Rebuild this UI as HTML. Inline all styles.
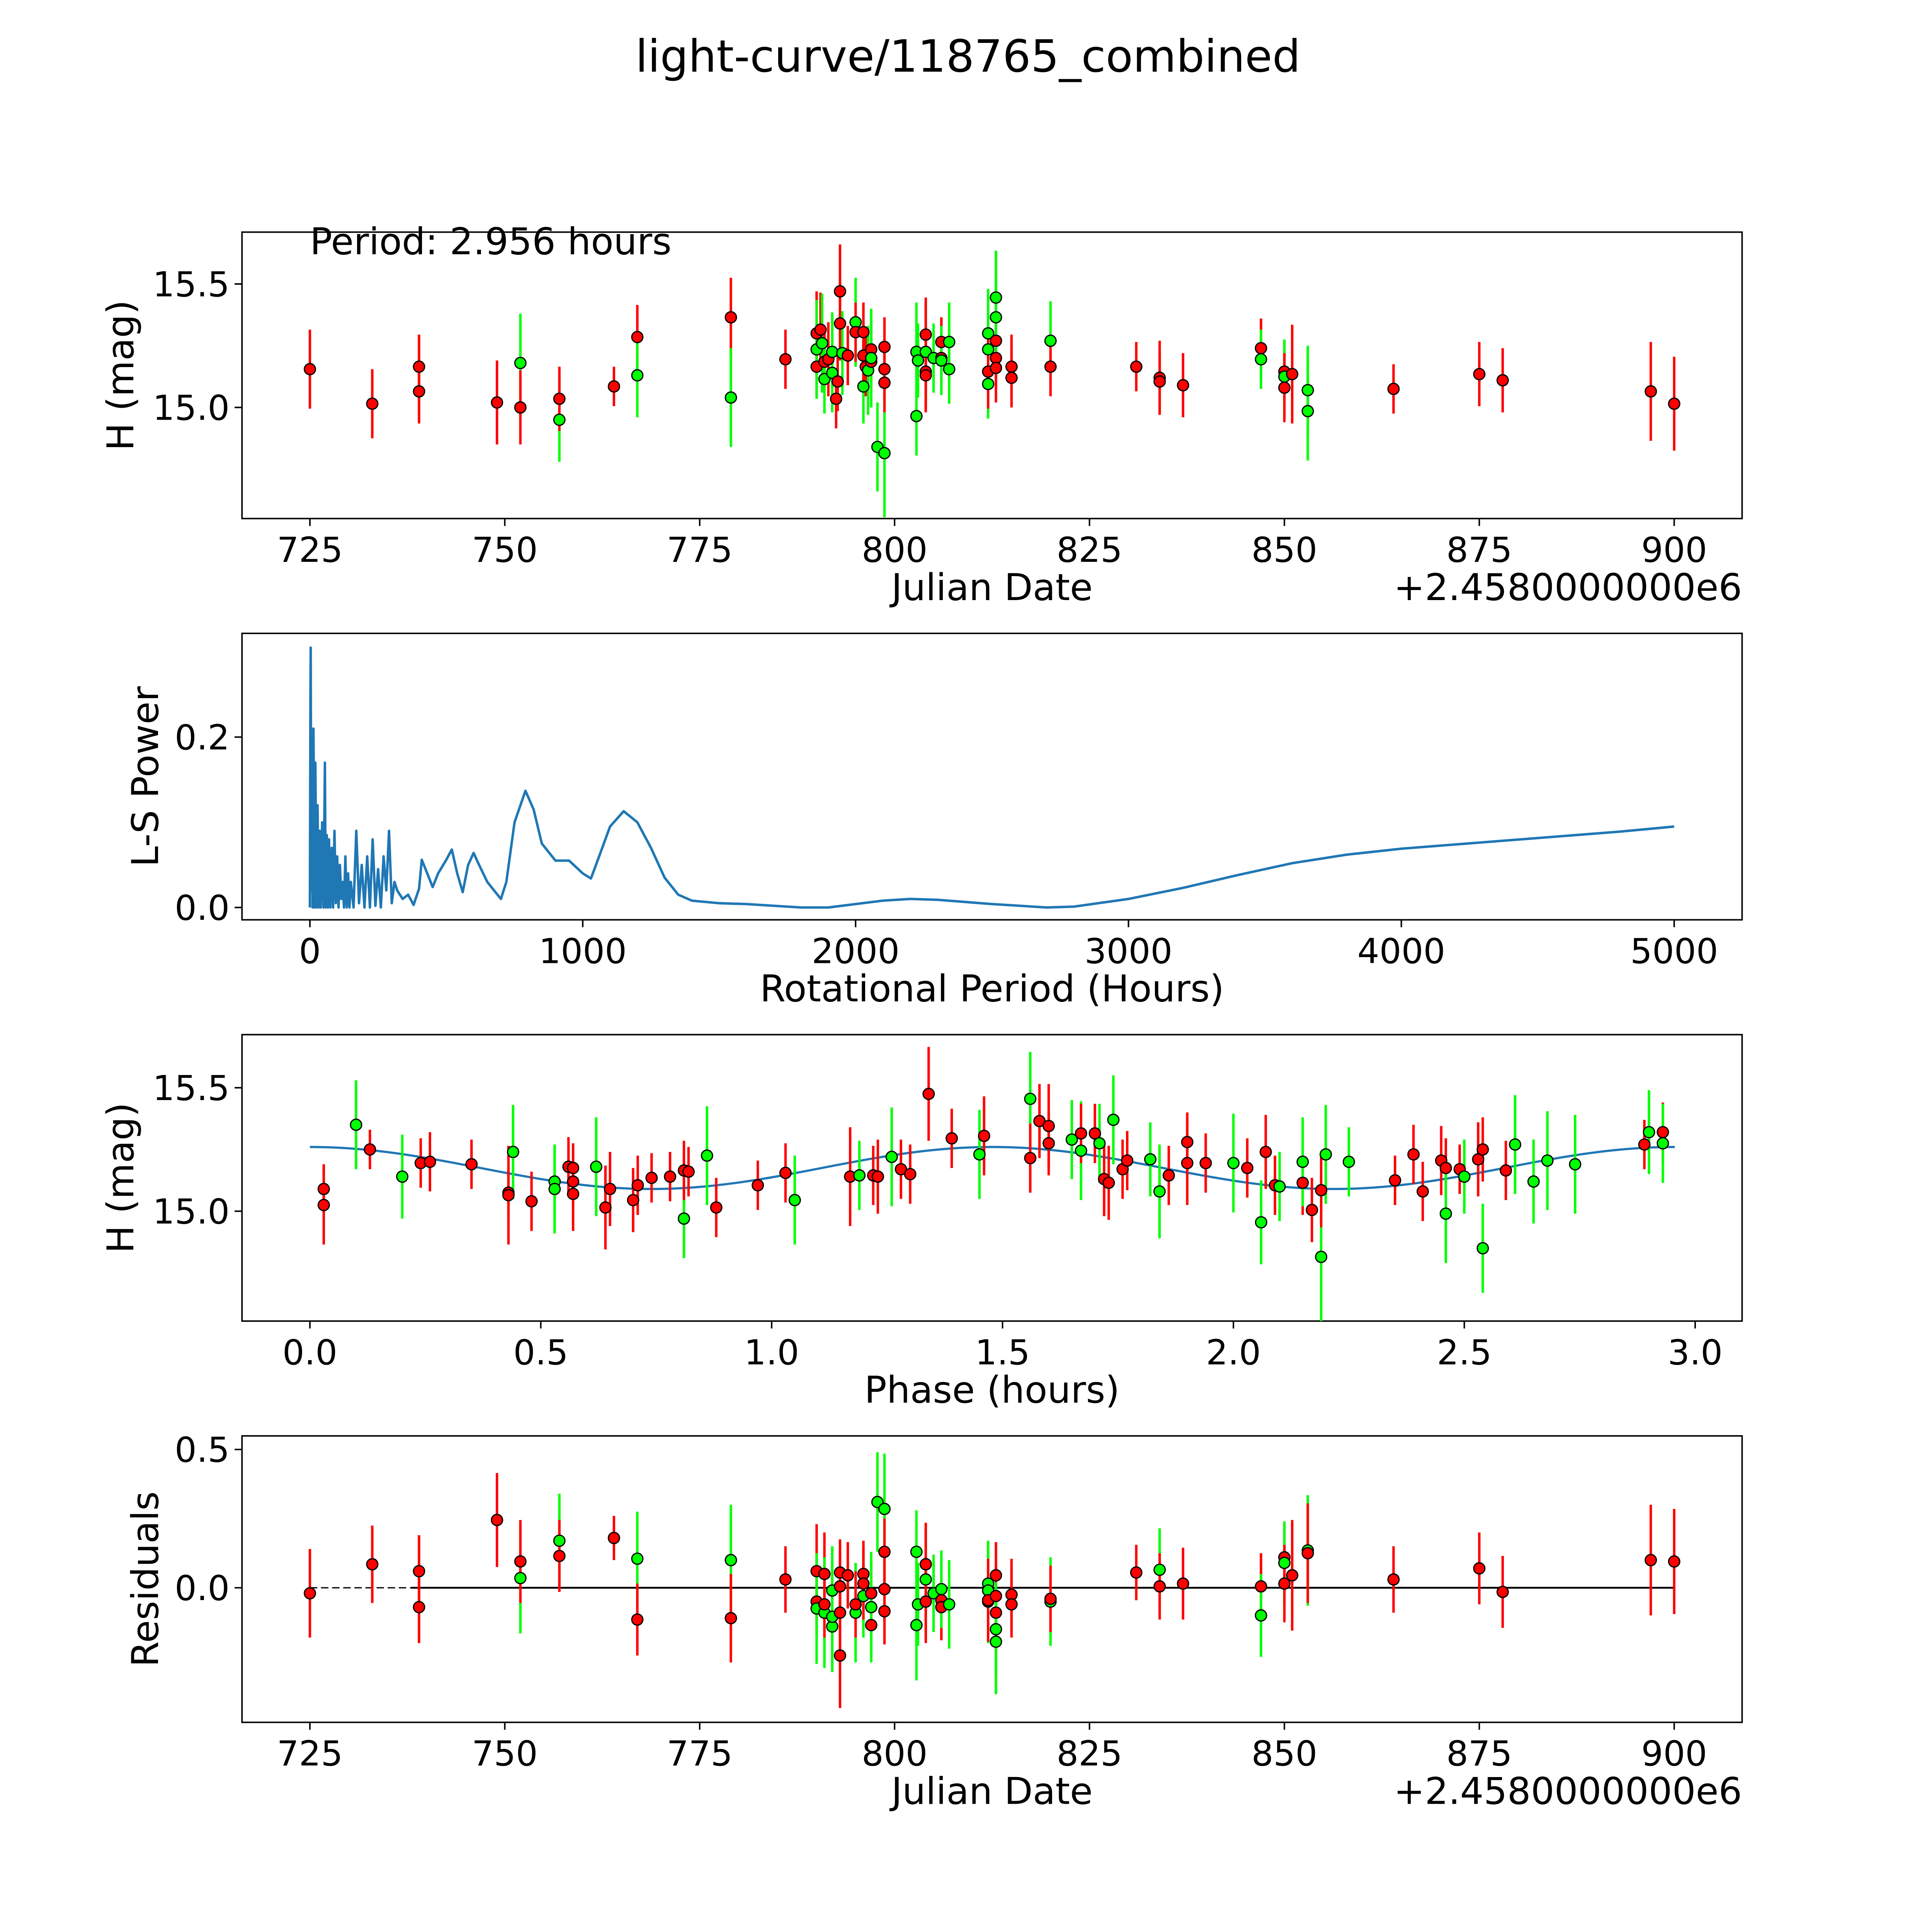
<!DOCTYPE html>
<html><head><meta charset="utf-8"><style>
html,body{margin:0;padding:0;background:#fff;width:5400px;height:5400px;overflow:hidden;}
svg{display:block;position:absolute;left:0;top:0;font-family:"DejaVu Sans","Liberation Sans",sans-serif;}
</style></head><body>
<svg id="fig" xmlns="http://www.w3.org/2000/svg" width="5400" height="5400" viewBox="0 0 1690 1690">
<rect x="0" y="0" width="1690" height="1690" fill="#fff"/>
<text x="784" y="58" font-size="36" text-anchor="middle">light-curve/118765_combined</text>
</svg>
<script>
// ---- Panel 1: magnitude vs Julian date ----
const p1Date=[725,733,739,739,749,752,752,757,757,764,767,767,779,779,786,
790,790,790,790.5,790.7,791,791,791.5,792,792,792.5,792.7,793,793,793.3,794,795,795,796,796,796,796.3,796.6,797,797,797,797.8,798.7,798.7,798.7,798.7,
802.8,802.8,803,804,804,804,804,805,806,806,806,807,807,812,812,812,812,813,813,813,813,813,815,815,820,820,831,834,834,837,847,847,850,850,850,851,853,853,864,875,878,897,900];
const p1Mag=[15.155,15.015,15.165,15.065,15.02,15.18,15.0,14.95,15.035,15.085,15.285,15.13,15.365,15.04,15.195,
15.3,15.165,15.235,15.315,15.26,15.185,15.115,15.195,15.14,15.225,15.035,15.105,15.47,15.34,15.22,15.21,15.345,15.305,15.305,15.085,15.21,15.165,15.15,15.235,15.185,15.2,14.84,14.815,15.245,15.155,15.1,
14.965,15.225,15.19,15.225,15.295,15.145,15.13,15.2,15.265,15.2,15.19,15.265,15.155,15.3,15.235,15.095,15.145,15.27,15.2,15.16,15.365,15.445,15.165,15.12,15.27,15.165,15.165,15.12,15.105,15.09,15.24,15.195,15.145,15.125,15.08,15.135,15.07,14.985,15.075,15.135,15.11,15.065,15.015];
const p1Err=[0.16,0.14,0.13,0.13,0.17,0.2,0.15,0.17,0.13,0.08,0.13,0.17,0.16,0.2,0.12,
0.17,0.12,0.2,0.15,0.2,0.12,0.14,0.15,0.16,0.16,0.12,0.12,0.19,0.15,0.17,0.12,0.18,0.12,0.12,0.15,0.13,0.12,0.18,0.12,0.12,0.2,0.18,0.26,0.12,0.12,0.12,
0.16,0.2,0.15,0.2,0.15,0.15,0.15,0.14,0.1,0.12,0.14,0.16,0.14,0.18,0.15,0.14,0.15,0.12,0.12,0.14,0.17,0.19,0.13,0.12,0.16,0.12,0.1,0.15,0.12,0.13,0.12,0.12,0.12,0.15,0.14,0.2,0.18,0.2,0.1,0.13,0.13,0.2,0.19];
const p1Col=['r','r','r','r','r','g','r','g','r','r','r','g','r','g','r',
'r','r','g','r','g','r','g','r','g','g','r','r','r','r','g','r','g','r','r','g','r','r','g','r','r','g','g','g','r','r','r',
'g','g','g','g','r','r','r','g','r','r','g','g','g','g','g','g','r','r','r','r','g','g','r','r','g','r','r','r','r','r','r','g','r','g','r','r','g','g','r','r','r','r','r'];

// ---- Panel 2: Lomb-Scargle periodogram ----
const lsPeriod=[0,2,3,5,7,10,13,17,20,24,28,32,36,40,45,50,55,58,62,66,70,75,80,85,90,95,100,105,110,115,120,125,130,135,140,145,150,160,170,180,190,200,210,220,230,240,250,260,270,280,290,300,310,320,340,360,380,400,410,430,450,470,500,520,540,560,580,600,620,650,700,720,750,790,820,850,900,950,1000,1030,1060,1100,1150,1200,1250,1300,1350,1400,1500,1600,1800,1900,2000,2100,2200,2300,2500,2700,2800,3000,3200,3400,3600,3800,4000,4200,4400,4600,4800,5000];
const lsPower=[0,0.25,0.305,0.02,0.2,0.0,0.21,0.0,0.17,0.0,0.12,0.0,0.09,0.0,0.1,0.0,0.17,0.0,0.085,0.0,0.08,0.0,0.07,0.0,0.09,0.005,0.06,0.0,0.05,0.01,0.03,0.0,0.06,0.0,0.04,0.0,0.03,0.0,0.09,0.005,0.05,0.0,0.06,0.0,0.08,0.002,0.045,0.0,0.06,0.02,0.09,0.005,0.03,0.02,0.01,0.015,0.003,0.022,0.056,0.04,0.024,0.04,0.056,0.068,0.04,0.018,0.05,0.064,0.05,0.03,0.01,0.03,0.1,0.137,0.115,0.075,0.055,0.055,0.04,0.034,0.06,0.095,0.113,0.1,0.07,0.035,0.015,0.008,0.005,0.004,0.0,0.0,0.004,0.008,0.01,0.009,0.004,0.0,0.001,0.01,0.023,0.038,0.052,0.062,0.069,0.074,0.079,0.084,0.089,0.095];

// ---- Panel 3: phase-folded ----
const phPhase=[0.03,0.03,0.1,0.13,0.2,0.24,0.26,0.35,0.43,0.43,0.44,0.48,0.53,0.53,0.56,0.57,0.57,0.57,0.62,0.64,0.65,0.7,0.71,0.74,0.78,0.81,0.81,0.82,0.86,0.88,0.97,1.03,1.05,1.17,1.19,1.22,1.23,1.26,1.28,1.3,1.34,1.39,1.45,1.46,1.56,1.56,1.58,1.6,1.6,1.65,1.67,1.67,1.7,1.71,1.72,1.73,1.74,1.76,1.77,1.82,1.84,1.86,1.9,1.9,1.94,2.0,2.03,2.06,2.07,2.09,2.1,2.15,2.15,2.17,2.19,2.19,2.2,2.25,2.35,2.39,2.41,2.45,2.46,2.46,2.49,2.5,2.53,2.54,2.54,2.59,2.61,2.65,2.68,2.74,2.89,2.9,2.93,2.93];
const phMag=[15.09,15.025,15.35,15.25,15.14,15.195,15.2,15.19,15.075,15.065,15.24,15.04,15.12,15.09,15.18,15.175,15.12,15.07,15.18,15.015,15.09,15.045,15.105,15.135,15.14,14.97,15.165,15.16,15.225,15.015,15.105,15.155,15.045,15.14,15.145,15.145,15.14,15.22,15.17,15.15,15.475,15.295,15.23,15.305,15.455,15.215,15.365,15.345,15.275,15.29,15.245,15.315,15.315,15.275,15.13,15.115,15.37,15.17,15.205,15.21,15.08,15.145,15.28,15.195,15.195,15.195,15.175,14.955,15.24,15.105,15.1,15.115,15.2,15.005,14.815,15.085,15.23,15.2,15.125,15.23,15.08,15.205,15.175,14.99,15.17,15.14,15.21,15.25,14.85,15.165,15.27,15.12,15.205,15.19,15.27,15.32,15.32,15.275];
const phErr=[0.1,0.16,0.18,0.08,0.17,0.1,0.12,0.1,0.1,0.2,0.19,0.12,0.14,0.18,0.12,0.1,0.12,0.15,0.2,0.17,0.15,0.13,0.12,0.1,0.1,0.16,0.12,0.1,0.2,0.12,0.1,0.12,0.18,0.2,0.14,0.12,0.15,0.2,0.12,0.12,0.19,0.12,0.18,0.16,0.19,0.14,0.15,0.17,0.13,0.16,0.2,0.12,0.12,0.16,0.15,0.15,0.18,0.12,0.12,0.15,0.19,0.12,0.12,0.17,0.12,0.2,0.12,0.17,0.15,0.12,0.14,0.13,0.18,0.13,0.26,0.15,0.2,0.14,0.1,0.12,0.12,0.14,0.12,0.2,0.1,0.15,0.15,0.13,0.18,0.12,0.2,0.17,0.2,0.2,0.1,0.17,0.12,0.16];
const phCol=['r','r','g','r','g','r','r','r','r','r','g','r','g','g','r','r','r','r','g','r','r','r','r','r','r','g','r','r','g','r','r','r','g','r','g','r','r','g','r','r','r','r','g','r','g','r','r','r','r','g','g','r','r','g','r','r','g','r','r','g','g','r','r','r','r','g','r','g','r','r','g','r','g','r','g','r','g','g','r','r','r','r','r','g','r','g','r','r','g','r','g','g','g','g','r','g','r','g'];
const fitMean=[15.175], fitAmp=[0.085], fitPeriod=[1.478], fitSpan=[0,2.956];

// ---- Panel 4: residuals ----
const resDate=[725,733,739,739,749,752,752,757,757,764,767,767,779,779,786,
790,790,790,791,791,791,792,792,792,793,793,793,793,794,795,795,796,796,796,797,797,797,797.8,798.7,798.7,798.7,798.7,
802.8,802.8,803,804,804,804,805,806,806,806,807,812,812,812,812,813,813,813,813,813,815,815,820,820,831,834,834,837,847,847,850,850,850,851,853,853,864,875,878,897,900];
const resVal=[-0.02,0.085,0.06,-0.07,0.245,0.035,0.095,0.17,0.115,0.18,0.105,-0.115,0.1,-0.11,0.03,
0.06,-0.05,-0.075,0.05,-0.09,-0.06,-0.01,-0.14,-0.105,0.055,0.005,-0.09,-0.245,0.045,-0.09,-0.06,0.05,-0.03,0.015,-0.135,-0.02,-0.07,0.31,0.285,0.13,-0.005,-0.085,
-0.135,0.13,-0.06,0.03,0.085,-0.05,-0.02,-0.045,-0.07,-0.005,-0.06,0.015,-0.01,-0.05,-0.045,0.045,-0.03,-0.09,-0.15,-0.195,-0.025,-0.06,-0.05,-0.04,0.055,0.065,0.005,0.015,0.005,-0.1,0.11,0.09,0.015,0.045,0.135,0.125,0.03,0.07,-0.015,0.1,0.095];
const resErr=[0.16,0.14,0.13,0.13,0.17,0.2,0.15,0.17,0.13,0.08,0.17,0.13,0.2,0.16,0.12,
0.17,0.12,0.2,0.15,0.2,0.12,0.16,0.16,0.2,0.12,0.12,0.12,0.19,0.12,0.18,0.12,0.12,0.15,0.13,0.12,0.12,0.2,0.18,0.2,0.12,0.12,0.12,
0.2,0.15,0.15,0.2,0.15,0.15,0.14,0.1,0.12,0.14,0.16,0.14,0.18,0.15,0.15,0.12,0.12,0.14,0.17,0.19,0.13,0.12,0.16,0.12,0.1,0.15,0.12,0.13,0.12,0.15,0.12,0.15,0.14,0.2,0.2,0.18,0.12,0.13,0.13,0.2,0.19];
const resCol=['r','r','r','r','r','g','r','g','r','r','g','r','g','r','r',
'r','r','g','r','g','r','g','g','g','r','r','r','r','r','g','r','r','g','r','r','r','g','g','g','r','r','r',
'g','g','g','g','r','r','g','r','r','g','g','g','g','g','r','r','r','r','g','g','r','r','g','r','r','g','r','r','r','g','r','g','r','r','g','r','r','r','r','r','r'];

const dateTicks=[725,750,775,800,825,850,875,900];
const magTicks=[15.0,15.5];
const lsXTicks=[0,1000,2000,3000,4000,5000];
const lsYTicks=[0.0,0.2];
const phXTicks=[0.0,0.5,1.0,1.5,2.0,2.5,3.0];
const resYTicks=[0.0,0.5];

const NS='http://www.w3.org/2000/svg';
const svg=document.getElementById('fig');
function mk(tag,attrs,parent){const e=document.createElementNS(NS,tag);for(const k in attrs)e.setAttribute(k,attrs[k]);(parent||svg).appendChild(e);return e;}
const L=196,R=1411;
const TICK=28, LAB=30;
function lin(d0,d1,p0,p1){return v=>p0+(v-d0)*(p1-p0)/(d1-d0);}
const colMap={r:'#ff0000',g:'#00ff00'};

function axes(name,top,bot,xs,ys,xt,yt,xfmt,yfmt,xlabel,ylabel,offset){
  const g=mk('g',{});
  
  
  const fr=mk('rect',{x:L,y:top,width:R-L,height:bot-top,fill:'none',stroke:'#000','stroke-width':1.2},g);
  
  
  xt.forEach(v=>{const x=xs(v);
    mk('line',{x1:x,y1:bot,x2:x,y2:bot+6,stroke:'#000','stroke-width':1.2},g);
    const t=mk('text',{x:x,y:bot+35,'font-size':TICK,'text-anchor':'middle'},g);t.textContent=xfmt(v);
    
    });
  yt.forEach(v=>{const y=ys(v);
    mk('line',{x1:L-6,y1:y,x2:L,y2:y,stroke:'#000','stroke-width':1.2},g);
    const t=mk('text',{x:L-10,y:y+10,'font-size':TICK,'text-anchor':'end'},g);t.textContent=yfmt(v);
    
    });
  const xl=mk('text',{x:(L+R)/2,y:bot+66,'font-size':LAB,'text-anchor':'middle'},g);xl.textContent=xlabel;
  
  
  const yc=(top+bot)/2;
  const yl=mk('text',{x:0,y:0,'font-size':LAB,'text-anchor':'middle',transform:`translate(${ylabel[1]},${yc}) rotate(-90)`},g);yl.textContent=ylabel[0];
  
  
  if(offset){const o=mk('text',{x:R,y:bot+66,'font-size':LAB,'text-anchor':'end'},g);o.textContent=offset;
    
    }
  return g;
}
function points(g,xs,ys,X,Y,E,C,name){
  X.forEach((xv,i)=>{const c=colMap[C[i]];const x=xs(xv);
    const l=mk('line',{x1:x,y1:ys(Y[i]-E[i]),x2:x,y2:ys(Y[i]+E[i]),stroke:c,'stroke-width':2},g);
    
    });
  X.forEach((xv,i)=>{const c=colMap[C[i]];
    const p=mk('circle',{cx:xs(xv),cy:ys(Y[i]),r:4.5,fill:c,stroke:'#000','stroke-width':1},g);
    
    });
}
const f1=v=>v.toFixed(1), f0=v=>String(v);

// Panel 1
{const top=188,bot=420;const xs=lin(725,900,251,1356),ys=lin(15.0,15.5,330,230);
 const g=axes('magnitude-vs-date-panel',top,bot,xs,ys,dateTicks,magTicks,f0,f1,'Julian Date',['H (mag)',108],'+2.4580000000e6');
 points(g,xs,ys,p1Date,p1Mag,p1Err,p1Col,'magnitude');
 const t=mk('text',{x:251,y:206,'font-size':LAB},g);t.textContent='Period: 2.956 hours';
 
 }
// Panel 2
{const top=513,bot=745;const xs=lin(0,5000,251,1356),ys=lin(0,0.2,735,597);
 const g=axes('periodogram-panel',top,bot,xs,ys,lsXTicks,lsYTicks,f0,f1,'Rotational Period (Hours)',['L-S Power',128],null);
 const pts=lsPeriod.map((p,i)=>xs(p).toFixed(2)+','+ys(lsPower[i]).toFixed(2)).join(' ');
 const pl=mk('polyline',{points:pts,fill:'none',stroke:'#1f77b4','stroke-width':2,'stroke-linejoin':'round'},g);
 
 }
// Panel 3
{const top=838,bot=1070;const xs=lin(0,3,251,1373),ys=lin(15.0,15.5,981,881);
 const g=axes('phase-folded-panel',top,bot,xs,ys,phXTicks,magTicks,f1,f1,'Phase (hours)',['H (mag)',108],null);
 const pts=[];for(let k=0;k<=200;k++){const ph=fitSpan[0]+(fitSpan[1]-fitSpan[0])*k/200;pts.push(xs(ph).toFixed(2)+','+ys(fitMean[0]+fitAmp[0]*Math.cos(2*Math.PI*ph/fitPeriod[0])).toFixed(2));}
 const pl=mk('polyline',{points:pts.join(' '),fill:'none',stroke:'#1f77b4','stroke-width':1.8},g);
 
 
 points(g,xs,ys,phPhase,phMag,phErr,phCol,'phase');}
// Panel 4
{const top=1163,bot=1395;const xs=lin(725,900,251,1356),ys=lin(0,0.5,1286,1174);
 const g=axes('residuals-panel',top,bot,xs,ys,dateTicks,resYTicks,f0,f1,'Julian Date',['Residuals',128],'+2.4580000000e6');
 const d=mk('line',{x1:xs(725),y1:ys(0),x2:xs(900),y2:ys(0),stroke:'#000','stroke-width':1,'stroke-dasharray':'6,3'},g);
 
 
 const s=mk('line',{x1:xs(738),y1:ys(0),x2:xs(900),y2:ys(0),stroke:'#000','stroke-width':1.5},g);
 
 
 points(g,xs,ys,resDate,resVal,resErr,resCol,'residual');}
</script>
</body></html>
